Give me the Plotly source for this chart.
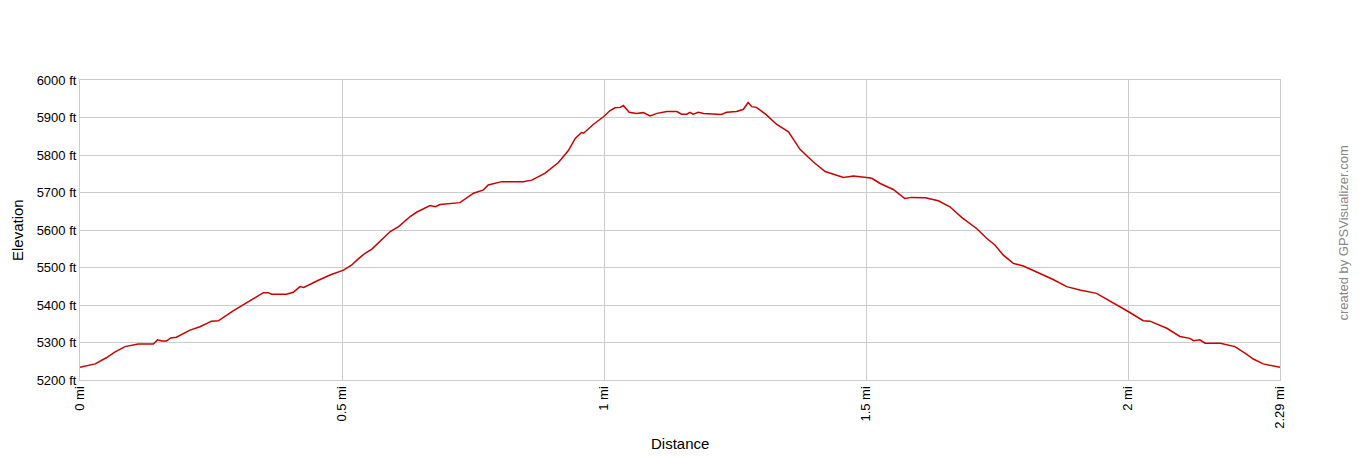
import plotly.graph_objects as go

# distance (mi) and elevation (ft)
distance = [0.000, 0.029, 0.051, 0.067, 0.086, 0.102, 0.111, 0.140, 0.148, 0.156,
            0.165, 0.173, 0.184, 0.210, 0.229, 0.251, 0.264, 0.293, 0.318, 0.340,
            0.350, 0.359, 0.366, 0.394, 0.407, 0.420, 0.427, 0.452, 0.477, 0.503,
            0.518, 0.531, 0.544, 0.557, 0.592, 0.608, 0.630, 0.643, 0.668, 0.678,
            0.687, 0.725, 0.751, 0.770, 0.779, 0.805, 0.846, 0.862, 0.887, 0.913,
            0.932, 0.945, 0.957, 0.961, 0.980, 0.999, 1.011, 1.021, 1.031, 1.037,
            1.048, 1.062, 1.075, 1.088, 1.101, 1.120, 1.139, 1.148, 1.158, 1.164,
            1.170, 1.180, 1.190, 1.215, 1.224, 1.234, 1.253, 1.266, 1.275, 1.282,
            1.291, 1.310, 1.329, 1.352, 1.361, 1.374, 1.399, 1.422, 1.457, 1.476,
            1.501, 1.511, 1.527, 1.552, 1.574, 1.587, 1.613, 1.638, 1.660, 1.683,
            1.711, 1.730, 1.746, 1.762, 1.781, 1.800, 1.832, 1.857, 1.883, 1.908,
            1.940, 1.972, 2.001, 2.029, 2.042, 2.074, 2.099, 2.118, 2.125, 2.137,
            2.147, 2.176, 2.204, 2.226, 2.239, 2.258, 2.290]
elevation = [5234, 5243, 5260, 5275, 5289, 5293, 5296, 5296, 5307, 5304,
             5304, 5312, 5314, 5333, 5342, 5357, 5358, 5385, 5406, 5424,
             5433, 5433, 5429, 5429, 5434, 5449, 5447, 5464, 5480, 5493,
             5506, 5523, 5538, 5549, 5596, 5609, 5636, 5648, 5665, 5662,
             5668, 5673, 5698, 5707, 5720, 5729, 5729, 5733, 5751, 5780,
             5812, 5844, 5860, 5858, 5882, 5902, 5918, 5926, 5927, 5932,
             5914, 5911, 5913, 5904, 5911, 5916, 5916, 5909, 5909, 5914,
             5909, 5914, 5911, 5909, 5908, 5914, 5916, 5922, 5940, 5929,
             5927, 5907, 5882, 5862, 5844, 5815, 5782, 5756, 5740, 5744,
             5740, 5738, 5724, 5708, 5684, 5687, 5686, 5678, 5662, 5633,
             5604, 5578, 5560, 5533, 5511, 5504, 5484, 5468, 5449, 5440,
             5431, 5406, 5382, 5358, 5357, 5338, 5316, 5311, 5305, 5307,
             5298, 5298, 5289, 5269, 5256, 5243, 5234]

x_ticks = [0, 0.5, 1, 1.5, 2, 2.29]
x_labels = ["0 mi", "0.5 mi", "1 mi", "1.5 mi", "2 mi", "2.29 mi"]
y_ticks = list(range(5200, 6001, 100))
y_labels = [f"{v} ft" for v in y_ticks]

fig = go.Figure()
fig.add_trace(go.Scatter(
    x=distance, y=elevation, mode="lines",
    line=dict(color="#cc0000", width=1.5),
    hoverinfo="skip", showlegend=False
))

axis_style = dict(showgrid=True, gridcolor="#cccccc", gridwidth=1, zeroline=False,
                  showline=True, linecolor="#cccccc", mirror=True, ticks="",
                  automargin=False)

fig.update_layout(
    width=1360, height=460,
    margin=dict(l=80, r=80, t=80, b=80),
    paper_bgcolor="white", plot_bgcolor="white",
    font=dict(family="Arial, Liberation Sans", color="#000", size=13),
    xaxis=dict(range=[0, 2.29], tickvals=x_ticks, ticktext=x_labels,
               tickangle=-90, **axis_style),
    yaxis=dict(range=[5200, 6000], tickvals=y_ticks, ticktext=y_labels,
               **axis_style),
    annotations=[
        # axis titles
        dict(text="Distance", xref="paper", yref="paper", x=0.5, y=-0.213,
             xanchor="center", yanchor="middle", showarrow=False,
             font=dict(size=15)),
        dict(text="Elevation", xref="paper", yref="paper", x=-0.0525, y=0.5,
             xanchor="center", yanchor="middle", textangle=-90, showarrow=False,
             font=dict(size=15)),
        # watermark
        dict(text="created by GPSVisualizer.com", xref="paper", yref="paper",
             x=1.06, y=0.49, textangle=-90, showarrow=False,
             font=dict(size=13, color="#888888")),
    ],
)

fig.write_html("out.html", config={"displayModeBar": False},
               post_script="document.body.style.margin='0';")
